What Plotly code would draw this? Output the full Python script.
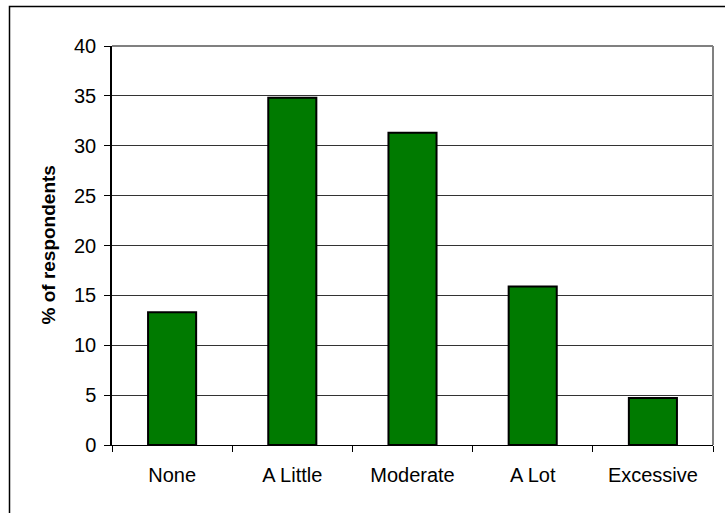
import plotly.graph_objects as go

# Survey responses: share of respondents per level
categories = ["None", "A Little", "Moderate", "A Lot", "Excessive"]
percent = [13.3, 34.8, 31.3, 15.9, 4.7]
y_ticks = [0, 5, 10, 15, 20, 25, 30, 35, 40]

W, H = 725, 513
L, R, T, B = 112, 12, 46, 68
pw, ph = W - L - R, H - T - B

def px_x(x):
    return (x - L) / pw

def px_y(y):
    return (H - B - y) / ph

fig = go.Figure(
    go.Bar(
        x=categories,
        y=percent,
        marker=dict(color="#007A00", line=dict(color="black", width=2)),
        width=0.4,
        hoverinfo="x+y",
    )
)

fig.update_layout(
    width=W,
    height=H,
    margin=dict(l=L, r=R, t=T, b=B),
    paper_bgcolor="white",
    plot_bgcolor="white",
    font=dict(family="Liberation Sans, Arial, sans-serif", size=20, color="black"),
    showlegend=False,
    xaxis=dict(
        showline=True,
        linecolor="black",
        linewidth=1,
        ticks="outside",
        tickson="boundaries",
        ticklen=6,
        tickcolor="black",
        showgrid=False,
        tickfont=dict(size=20),
        ticklabelstandoff=12,
    ),
    yaxis=dict(
        range=[0, 40],
        tickvals=y_ticks,
        showline=True,
        linecolor="black",
        linewidth=1.5,
        ticks="outside",
        ticklen=6,
        tickcolor="black",
        showgrid=True,
        gridcolor="#333333",
        gridwidth=1,
        zeroline=False,
        tickfont=dict(size=20),
        ticklabelstandoff=4,
    ),
    shapes=[
        # grey plot-area frame on top and right
        dict(type="line", xref="paper", yref="paper", x0=0, x1=1, y0=1, y1=1,
             line=dict(color="#808080", width=2)),
        dict(type="line", xref="paper", yref="paper", x0=1, x1=1, y0=0, y1=1,
             line=dict(color="#808080", width=2)),
        # outer chart frame
        dict(type="rect", xref="paper", yref="paper",
             x0=px_x(9.5), x1=px_x(740), y0=px_y(530), y1=px_y(6.5),
             line=dict(color="black", width=1.5), layer="below"),
    ],
    annotations=[
        dict(text="<b>% of respondents</b>", xref="paper", yref="paper",
             x=px_x(48), y=0.5, textangle=-90, showarrow=False,
             font=dict(size=19), xanchor="center", yanchor="middle"),
    ],
)

fig.write_html("out.html")
